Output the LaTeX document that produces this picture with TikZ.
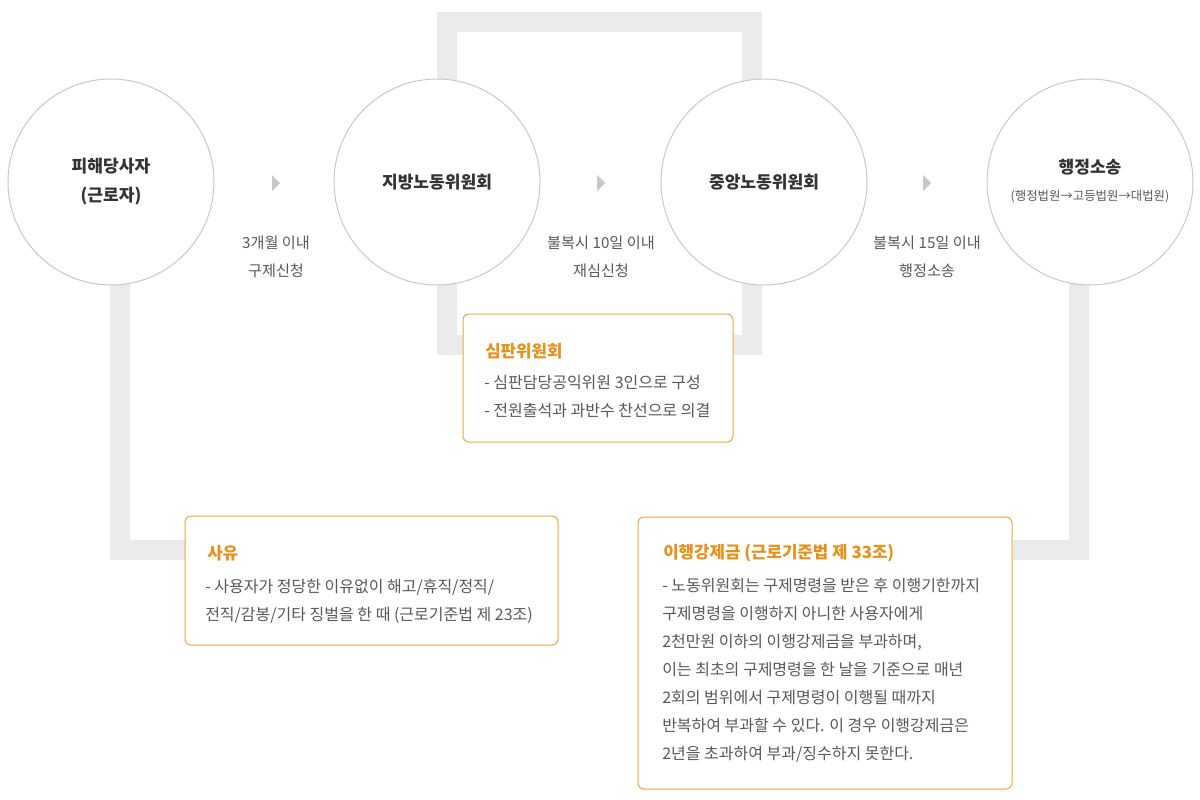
\documentclass[tikz,border=0pt]{standalone}
\usepackage{fontspec}
\setmainfont{Noto Sans CJK KR}
\usetikzlibrary{calc,backgrounds}
\definecolor{bargray}{HTML}{EBEBEB}
\definecolor{circgray}{HTML}{C9C9C9}
\definecolor{boxorange}{HTML}{EEA73E}
\definecolor{titleorange}{HTML}{E8901C}
\definecolor{txt}{HTML}{595959}
\definecolor{dark}{HTML}{333333}
\definecolor{tri}{HTML}{C8C8C8}
\begin{document}
\begin{tikzpicture}[x=0.75pt,y=-0.75pt,
 bar/.style={line width=15pt, draw=bargray},
 stage/.style={circle, draw=circgray, line width=0.75pt, fill=white, minimum size=154.5pt, inner sep=0pt, align=center, text=dark, font=\fontsize{12.8}{21.75}\selectfont\bfseries},
 infobox/.style={draw=boxorange, line width=0.75pt, fill=white, rounded corners=4.5pt, inner sep=0pt},
 boxtitle/.style={anchor=west, inner sep=0pt, text=titleorange, font=\fontsize{12.6}{14}\selectfont\bfseries},
 boxbody/.style={anchor=west, inner sep=0pt, align=left, text=txt, font=\fontsize{12}{21}\selectfont},
 steplabel/.style={inner sep=0pt, align=center, text=txt, font=\fontsize{11.4}{21}\selectfont},
 tip/.style={fill=tri}]
\useasboundingbox (0,0) rectangle (1200,800);

% stages
\node[stage] (c1) at (111,182) {피해당사자\\(근로자)};
\node[stage] (c2) at (437,182) {지방노동위원회};
\node[stage] (c3) at (764,182) {중앙노동위원회};
\node[stage] (c4) at (1090,182) {};
\node[inner sep=0pt, text=dark, font=\fontsize{12.8}{14}\selectfont\bfseries] (c4t) at (1090,167) {행정소송};
\node[inner sep=0pt, text=txt, font=\fontsize{9.3}{11}\selectfont] (c4s) at (1090,197) {(행정법원→고등법원→대법원)};

% triangles
\fill[tip] (272,175) -- (280,183) -- (272,191) -- cycle;
\fill[tip] (597,175) -- (605,183) -- (597,191) -- cycle;
\fill[tip] (923,175) -- (931,183) -- (923,191) -- cycle;

% step labels
\node[steplabel] (l1) at (276,257) {3개월 이내\\구제신청};
\node[steplabel] (l2) at (601,257) {불복시 10일 이내\\재심신청};
\node[steplabel] (l3) at (927,257) {불복시 15일 이내\\행정소송};

% boxes
\node[infobox, minimum width=202.5pt, minimum height=96pt] (pan) at (598,378) {};
\node[boxtitle] (pant) at (485,351) {심판위원회};
\node[boxbody] (panb) at (484,397) {- 심판담당공익위원 3인으로 구성\\- 전원출석과 과반수 찬선으로 의결};

\node[infobox, minimum width=279.75pt, minimum height=96.75pt] (sayu) at (371.5,580.5) {};
\node[boxtitle] (sayut) at (207,553) {사유};
\node[boxbody] (sayub) at (205,601) {- 사용자가 정당한 이유없이 해고/휴직/정직/\\전직/감봉/기타 징벌을 한 때 (근로기준법 제 23조)};

\node[infobox, minimum width=280.5pt, minimum height=204pt] (gang) at (825,653) {};
\node[boxtitle] (gangt) at (663,553) {이행강제금 (근로기준법 제 33조)};
\node[boxbody] (gangb) at (662,670.5) {- 노동위원회는 구제명령을 받은 후 이행기한까지\\구제명령을 이행하지 아니한 사용자에게\\2천만원 이하의 이행강제금을 부과하며,\\이는 최초의 구제명령을 한 날을 기준으로 매년\\2회의 범위에서 구제명령이 이행될 때까지\\반복하여 부과할 수 있다. 이 경우 이행강제금은\\2년을 초과하여 부과/징수하지 못한다.};

% bars
\begin{scope}[on background layer]
\fill[white] (0,0) rectangle (1200,800);
\draw[bar] ($(c1.center)+(9,0)$) |- ($(sayu.west)+(0,-30.5)$);
\draw[bar] ($(c2.center)+(10,0)$) |- ($(c3.center)+(-12,-160)$) -- ($(c3.center)+(-12,0)$);
\draw[bar] ($(c2.center)+(10,0)$) |- ($(pan.west)+(0,-33)$);
\draw[bar] ($(c3.center)+(-12,0)$) |- ($(pan.east)+(0,-33)$);
\draw[bar] ($(c4.center)+(-11,0)$) |- ($(gang.east)+(0,-103)$);
\end{scope}
\end{tikzpicture}
\end{document}
